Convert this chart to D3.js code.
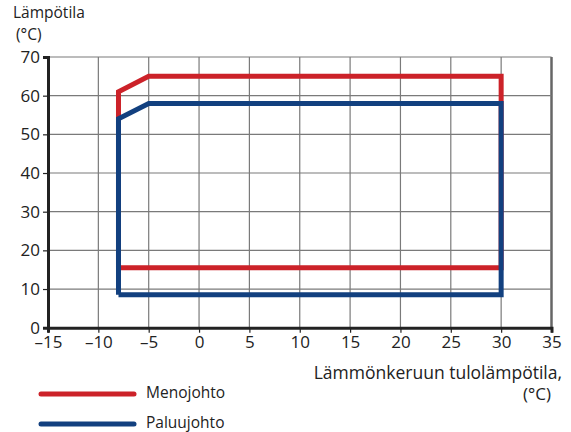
<!DOCTYPE html>
<html><head><meta charset="utf-8">
<script src="https://cdn.jsdelivr.net/npm/d3@7"></script>
<style>body{margin:0;background:#fff}svg{display:block}text{font-family:"Open Sans","Noto Sans",sans-serif;fill:#222}</style>
</head><body>
<svg id="c" width="571" height="432"></svg>
<script>
const xTicks = [-15,-10,-5,0,5,10,15,20,25,30,35];
const yTicks = [0,10,20,30,40,50,60,70];
const menoX = [-8,-8,-5,30,30,-8];
const menoY = [15.5,61,65,65,15.5,15.5];
const paluuX = [-8,-8,-5,30,30,-8];
const paluuY = [8.5,54,58,58,8.5,8.5];
const seriesNames = ["Menojohto","Paluujohto"];
const colors = ["#cc2229","#12407f"];

const svg = d3.select("#c");
const x = d3.scaleLinear().domain([-15,35]).range([48,551.5]);
const y = d3.scaleLinear().domain([0,70]).range([327.7,57]);

const grid = svg.append("g");
xTicks.slice(1).forEach(v=>{
  grid.append("line").attr("x1",x(v)).attr("x2",x(v)).attr("y1",y(0)).attr("y2",y(70))
    .attr("stroke", v===35?"#666":"#7a7a7a").attr("stroke-width", v===35?2.5:1.2);
});
yTicks.slice(1).forEach(v=>{
  grid.append("line").attr("x1",x(-15)).attr("x2",x(35)).attr("y1",y(v)).attr("y2",y(v))
    .attr("stroke","#7a7a7a").attr("stroke-width",1.2);
});

const xAxis = svg.append("g").attr("transform",`translate(0,${y(0)})`)
  .call(d3.axisBottom(x).tickValues(xTicks).tickSize(5).tickPadding(3).tickFormat(d=>d<0?"\u2013"+Math.abs(d):d));
const yAxis = svg.append("g").attr("transform",`translate(${x(-15)},0)`)
  .call(d3.axisLeft(y).tickValues(yTicks).tickSize(5).tickPadding(3));
[xAxis,yAxis].forEach(a=>{
  a.select(".domain").attr("stroke","#222").attr("stroke-width",3);
  a.selectAll(".tick line").attr("stroke","#222").attr("stroke-width",1.2);
  a.selectAll(".tick text").attr("font-size",17).attr("fill","#222")
   .style("font-family",'"Open Sans","Noto Sans",sans-serif');
});

const line = d3.line().x(d=>x(d[0])).y(d=>y(d[1]));
const data = [d3.zip(menoX,menoY), d3.zip(paluuX,paluuY)];
data.forEach((d,i)=>{
  svg.append("path").attr("d",line(d)).attr("fill","none").attr("stroke",colors[i])
    .attr("stroke-width",5).attr("stroke-linejoin","miter");
});

svg.append("text").attr("x",13).attr("y",18).attr("font-size",15.5).text("Lämpötila");
svg.append("text").attr("x",16).attr("y",39.5).attr("font-size",15.5).text("(°C)");
svg.append("text").attr("x",562).attr("y",379).attr("text-anchor","end").attr("font-size",17.5).text("Lämmönkeruun tulolämpötila,");
svg.append("text").attr("x",551).attr("y",400).attr("text-anchor","end").attr("font-size",17).text("(°C)");

seriesNames.forEach((n,i)=>{
  const yy = 394 + i*30;
  svg.append("line").attr("x1",41).attr("x2",134).attr("y1",yy).attr("y2",yy)
    .attr("stroke",colors[i]).attr("stroke-width",5).attr("stroke-linecap","round");
  svg.append("text").attr("x",146).attr("y",yy+3.5).attr("font-size",15.5).text(n);
});
</script>
</body></html>
